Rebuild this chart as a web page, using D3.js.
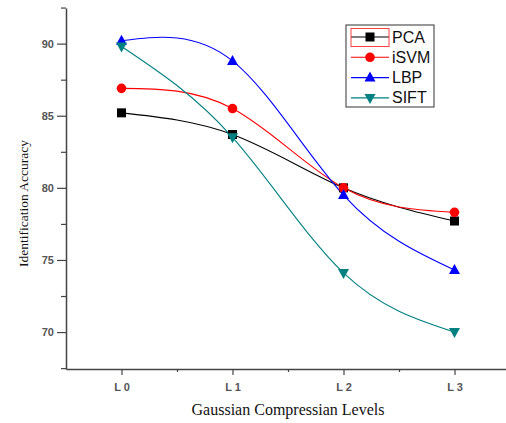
<!DOCTYPE html>
<html>
<head>
<meta charset="utf-8">
<script src="https://cdn.jsdelivr.net/npm/d3@7"></script>
<style>
  body { margin: 0; background: #fff; }
  svg { display: block; }
</style>
</head>
<body>
<svg id="chart" width="506" height="423"></svg>
<script>
// chart values
const levels = ["L 0", "L 1", "L 2", "L 3"];
const pca  = [85.2, 83.7, 80.0, 77.7];
const isvm = [86.9, 85.5, 80.0, 78.3];
const lbp  = [90.2, 88.8, 79.5, 74.3];
const sift = [89.8, 83.5, 74.1, 70.0];
const yTicks = [70, 75, 80, 85, 90];

const series = [
  { name: "PCA",  values: pca,  color: "#000000", marker: "square" },
  { name: "iSVM", values: isvm, color: "#ff0000", marker: "circle" },
  { name: "LBP",  values: lbp,  color: "#0000ff", marker: "up" },
  { name: "SIFT", values: sift, color: "#008080", marker: "down" }
];

const svg = d3.select("#chart");

// plot area
const plotLeft = 66, plotTop = 8, plotBottom = 369, plotRight = 510;

const x = d3.scaleLinear().domain([-0.5, 3.5]).range([plotLeft, plotRight]);
const y = d3.scaleLinear().domain([67.44, 92.47]).range([plotBottom, plotTop]);

const axisColor = "#444";

// y axis
svg.append("g")
  .attr("transform", "translate(" + plotLeft + ",0)")
  .call(d3.axisLeft(y).tickValues(yTicks).tickSize(9).tickPadding(3).tickSizeOuter(0));
svg.append("g")
  .attr("transform", "translate(" + plotLeft + ",0)")
  .call(d3.axisLeft(y).tickValues([67.5, 72.5, 77.5, 82.5, 87.5, 92.5]).tickSize(5).tickFormat("").tickSizeOuter(0))
  .select(".domain").remove();

// x axis
svg.append("g")
  .attr("transform", "translate(0," + plotBottom + ")")
  .call(d3.axisBottom(x).tickValues([0, 1, 2, 3]).tickFormat(i => levels[i]).tickSize(6).tickPadding(8.5).tickSizeOuter(0));
svg.append("g")
  .attr("transform", "translate(0," + plotBottom + ")")
  .call(d3.axisBottom(x).tickValues([0.5, 1.5, 2.5]).tickSize(3).tickFormat("").tickSizeOuter(0))
  .select(".domain").remove();

svg.selectAll(".domain").attr("stroke", axisColor).attr("stroke-width", 1.5);
svg.selectAll(".tick line").attr("stroke", axisColor).attr("stroke-width", 1.2);
svg.selectAll(".tick text")
  .attr("fill", "#555")
  .style("font-family", "Arial, 'Liberation Sans', sans-serif")
  .style("font-size", "11px")
  .style("font-weight", "bold");

// axis titles
svg.append("text")
  .attr("x", 288).attr("y", 415)
  .attr("text-anchor", "middle")
  .style("font-family", "'Times New Roman', 'Liberation Serif', serif")
  .style("font-size", "16px")
  .attr("fill", "#111")
  .text("Gaussian Compressian Levels");

svg.append("text")
  .attr("transform", "translate(28,203.5) rotate(-90)")
  .attr("text-anchor", "middle")
  .style("font-family", "'Times New Roman', 'Liberation Serif', serif")
  .style("font-size", "13.5px")
  .attr("fill", "#111")
  .text("Identification Accuracy");

// lines
const line = d3.line()
  .x((d, i) => x(i))
  .y(d => y(d))
  .curve(d3.curveNatural);

function drawMarker(g, type, cx, cy, color) {
  if (type === "square") {
    g.append("rect").attr("x", cx - 4.5).attr("y", cy - 4.5).attr("width", 9).attr("height", 9).attr("fill", color);
  } else if (type === "circle") {
    g.append("circle").attr("cx", cx).attr("cy", cy).attr("r", 4.8).attr("fill", color);
  } else if (type === "up") {
    g.append("path").attr("d", "M" + cx + "," + (cy - 6) + "L" + (cx + 5.5) + "," + (cy + 4) + "L" + (cx - 5.5) + "," + (cy + 4) + "Z").attr("fill", color);
  } else {
    g.append("path").attr("d", "M" + cx + "," + (cy + 6) + "L" + (cx + 5.5) + "," + (cy - 4) + "L" + (cx - 5.5) + "," + (cy - 4) + "Z").attr("fill", color);
  }
}

const plot = svg.append("g");
series.forEach(s => {
  plot.append("path")
    .datum(s.values)
    .attr("d", line)
    .attr("fill", "none")
    .attr("stroke", s.color)
    .attr("stroke-width", 1.1);
});
series.forEach(s => {
  s.values.forEach((v, i) => drawMarker(plot, s.marker, x(i), y(v), s.color));
});

// legend
const legend = svg.append("g");
legend.append("rect")
  .attr("x", 346).attr("y", 25).attr("width", 88).attr("height", 82)
  .attr("fill", "#fff").attr("stroke", "#333").attr("stroke-width", 1);
series.forEach((s, i) => {
  const ly = 37 + i * 20.3;
  legend.append("line")
    .attr("x1", 351).attr("x2", 389).attr("y1", ly).attr("y2", ly)
    .attr("stroke", s.color).attr("stroke-width", 1.1);
  drawMarker(legend, s.marker, 370, ly, s.color);
  legend.append("text")
    .attr("x", 392).attr("y", ly + 5.5)
    .style("font-family", "Arial, 'Liberation Sans', sans-serif")
    .style("font-size", "16px")
    .attr("fill", "#111")
    .text(s.name);
});
// selection box around the first legend sample
legend.append("rect")
  .attr("x", 351).attr("y", 28.5).attr("width", 38).attr("height", 18)
  .attr("fill", "none").attr("stroke", "#ff4040").attr("stroke-width", 1);
</script>
</body>
</html>
